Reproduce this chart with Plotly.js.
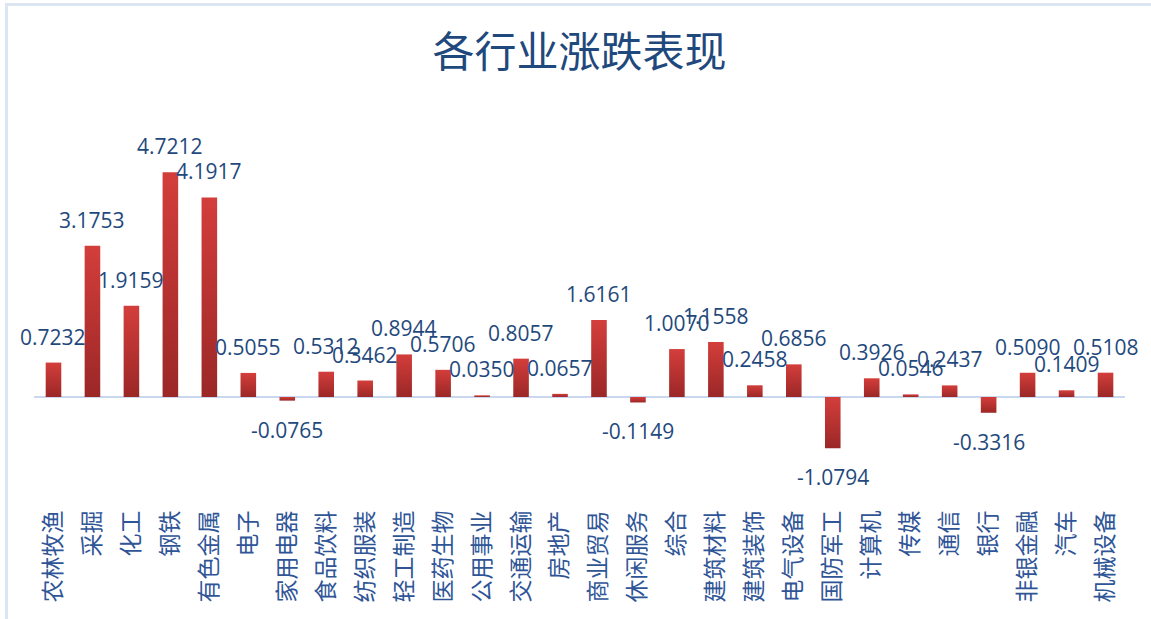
<!DOCTYPE html>
<html>
<head>
<meta charset="utf-8">
<script src="https://cdn.plot.ly/plotly-3.0.1.min.js"></script>
<style>
  html, body { margin: 0; padding: 0; background: #ffffff; }
  #chart { width: 1151px; height: 619px; }
  #frame { position: absolute; left: 5px; top: 3px; width: 1146px; height: 616px;
           border-top: 3px solid #dce6f2; border-left: 3px solid #dce6f2; pointer-events: none; }
</style>
</head>
<body>
<div id="chart"></div>
<div id="frame"></div>
<script>
const categories = ["农林牧渔","采掘","化工","钢铁","有色金属","电子","家用电器","食品饮料","纺织服装","轻工制造",
  "医药生物","公用事业","交通运输","房地产","商业贸易","休闲服务","综合","建筑材料","建筑装饰","电气设备",
  "国防军工","计算机","传媒","通信","银行","非银金融","汽车","机械设备"];
const changes = [0.7232,3.1753,1.9159,4.7212,4.1917,0.5055,-0.0765,0.5312,0.3462,0.8944,
  0.5706,0.0350,0.8057,0.0657,1.6161,-0.1149,1.0070,1.1558,0.2458,0.6856,
  -1.0794,0.3926,0.0546,0.2437,-0.3316,0.5090,0.1409,0.5108];
const labels = changes.map(v => v.toFixed(4));

const trace = {
  type: 'bar',
  x: categories,
  y: changes,
  width: 0.4,
  marker: { color: '#b83230', line: { width: 0 } },
  hoverinfo: 'x+y'
};

const annotations = categories.map((c, i) => ({
  x: c, y: changes[i], xref: 'x', yref: 'y',
  text: labels[i], showarrow: false,
  yanchor: changes[i] >= 0 ? 'bottom' : 'top',
  yshift: changes[i] >= 0 ? 10 : -13,
  font: { family: 'Open Sans, Liberation Sans, sans-serif', size: 21, color: '#1f497d' }
}));

const layout = {
  width: 1151, height: 619,
  margin: { l: 34, r: 26, t: 110, b: 114 },
  paper_bgcolor: 'rgba(0,0,0,0)',
  plot_bgcolor: 'rgba(0,0,0,0)',
  showlegend: false,
  title: {
    text: '各行业涨跌表现',
    x: 0.5, xref: 'paper', xanchor: 'center',
    y: 1 - 52/619, yref: 'container', yanchor: 'middle',
    font: { family: 'Noto Sans CJK SC, sans-serif', size: 42, color: '#1f497d' }
  },
  xaxis: {
    type: 'category',
    range: [-0.5, categories.length - 0.5],
    autorange: false,
    tickangle: -90,
    showgrid: false, showline: false, zeroline: false,
    ticks: '',
    tickfont: { family: 'Noto Sans CJK SC, sans-serif', size: 23, color: '#2f5597' }
  },
  yaxis: {
    range: [-2.269, 6.029],
    autorange: false,
    showgrid: false, showticklabels: false, showline: false,
    zeroline: true, zerolinecolor: '#c9d8ee', zerolinewidth: 2,
    ticks: ''
  },
  annotations: annotations
};

Plotly.newPlot('chart', [trace], layout, { displayModeBar: false, staticPlot: true }).then(gd => {
  const svg = gd.querySelector('svg.main-svg');
  const ns = 'http://www.w3.org/2000/svg';
  let defs = svg.querySelector('defs');
  if (!defs) { defs = document.createElementNS(ns, 'defs'); svg.insertBefore(defs, svg.firstChild); }
  const grad = document.createElementNS(ns, 'linearGradient');
  grad.setAttribute('id', 'barGrad');
  grad.setAttribute('x1', '0'); grad.setAttribute('y1', '0');
  grad.setAttribute('x2', '0'); grad.setAttribute('y2', '1');
  const s1 = document.createElementNS(ns, 'stop');
  s1.setAttribute('offset', '0'); s1.setAttribute('stop-color', '#d33e3b');
  const s2 = document.createElementNS(ns, 'stop');
  s2.setAttribute('offset', '1'); s2.setAttribute('stop-color', '#9b2727');
  grad.appendChild(s1); grad.appendChild(s2);
  defs.appendChild(grad);
  gd.querySelectorAll('.barlayer .point path').forEach(p => { p.style.fill = 'url(#barGrad)'; });
});
</script>
</body>
</html>
